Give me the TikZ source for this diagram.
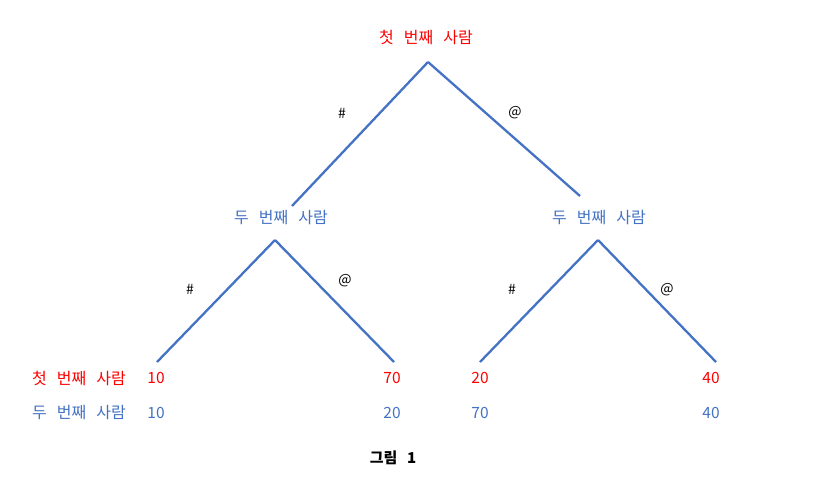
\documentclass[tikz,border=0pt]{standalone}
\usepackage{fontspec}
\setmainfont[WordSpace=2.8]{Noto Sans CJK KR}
\usepackage{tikz}
\usetikzlibrary{positioning}
\definecolor{pone}{HTML}{FF0000}
\definecolor{ptwo}{HTML}{4472C4}

\begin{document}
\begin{tikzpicture}[x=1pt,y=-1pt,
  who/.style={inner sep=1pt,font=\fontsize{16}{19}\selectfont},
  first/.style={who,text=pone},
  second/.style={who,text=ptwo},
  move/.style={inner sep=1pt,font=\fontsize{14}{16}\selectfont},
  val/.style={inner sep=1pt,font=\fontsize{15.5}{18}\selectfont},
  edge/.style={draw=ptwo,line width=2.3pt}]
  \useasboundingbox (0,0) rectangle (818,492);
  % decision points and branch ends
  \coordinate (top) at (428,62);
  \coordinate (tl) at (292,206);
  \coordinate (tr) at (580,196);
  \coordinate (ltop) at (275,240);
  \coordinate (ll) at (157,362);
  \coordinate (lr) at (394,362);
  \coordinate (rtop) at (598,240);
  \coordinate (rl) at (480,362);
  \coordinate (rr) at (716,362);
  % players
  \node[first]  (p1)  at (426,37)  {첫 번째 사람};
  \node[second] (p2l) at (281,218) {두 번째 사람};
  \node[second] (p2r) at (599,218) {두 번째 사람};
  % branches
  \draw[edge] (top) -- (tl);
  \draw[edge] (top) -- (tr);
  \draw[edge] (ltop) -- (ll);
  \draw[edge] (ltop) -- (lr);
  \draw[edge] (rtop) -- (rl);
  \draw[edge] (rtop) -- (rr);
  \node[move] (m1) at (342,113) {\#};
  \node[move] (m2) at (515,113) {@};
  \node[move] (m3) at (190,289) {\#};
  \node[move] (m4) at (345,281) {@};
  \node[move] (m5) at (512,289) {\#};
  \node[move] (m6) at (667,290) {@};
  % payoffs
  \node[first]  (row1) at (79,378) {첫 번째 사람};
  \node[second] (row2) at (79,413) {두 번째 사람};
  \node[val,text=pone] (a1) at (156,378) {10};
  \node[val,text=pone] (a2) at (392,378) {70};
  \node[val,text=pone] (a3) at (480,378) {20};
  \node[val,text=pone] (a4) at (711,378) {40};
  \node[val,text=ptwo] (b1) at (156,413) {10};
  \node[val,text=ptwo] (b2) at (392,413) {20};
  \node[val,text=ptwo] (b3) at (480,413) {70};
  \node[val,text=ptwo] (b4) at (711,413) {40};
  \node[val,font=\fontsize{15}{18}\selectfont\bfseries] (cap) at (393,458) {그림 1};
\end{tikzpicture}
\end{document}
